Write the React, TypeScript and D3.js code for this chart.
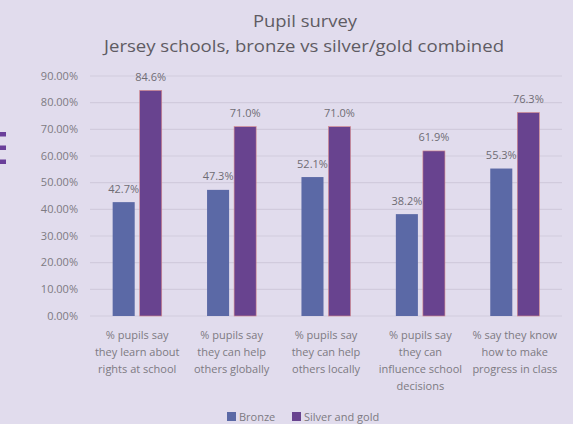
import React from "react";
import * as d3 from "d3";

const categories = ["c1", "c2", "c3", "c4", "c5"];
const categoryLabels: string[][] = [
  ["% pupils say", "they learn about", "rights at school"],
  ["% pupils say", "they can help", "others globally"],
  ["% pupils say", "they can help", "others locally"],
  ["% pupils say", "they can", "influence school", "decisions"],
  ["% say they know", "how to make", "progress in class"],
];
const seriesNames = ["Bronze", "Silver and gold"];
const bronze = [42.7, 47.3, 52.1, 38.2, 55.3];
const silverGold = [84.6, 71.0, 71.0, 61.9, 76.3];
const yTicks = [0, 10, 20, 30, 40, 50, 60, 70, 80, 90];
const colors = ["#5b69a6", "#68438f"];

const W = 573;
const H = 424;
const FONT = "'Open Sans', 'Liberation Sans', sans-serif";

export default function App() {
  const y = d3.scaleLinear().domain([0, 90]).range([316, 76]);
  const x0 = d3
    .scaleBand<string>()
    .domain(categories)
    .range([90, 562])
    .paddingInner(0.48)
    .paddingOuter(0.24);
  const x1 = d3
    .scaleBand<string>()
    .domain(seriesNames)
    .range([0, x0.bandwidth()])
    .paddingInner(0.185);
  const series = [bronze, silverGold];
  const textColor = "#7d7a82";

  return (
    <svg
      width={W}
      height={H}
      style={{ position: "absolute", left: 0, top: 0 }}
      fontFamily={FONT}
    >
      <rect x={0} y={0} width={W} height={H} fill="#e1dced" />
      {/* slide fragment at left edge */}
      <g fill="#6a3f9a">
        <rect x={0} y={132} width={6} height={4.5} />
        <rect x={0} y={145.5} width={6} height={4.5} />
        <rect x={0} y={159.5} width={6} height={4.5} />
      </g>
      <text
        x={305}
        y={27}
        textAnchor="middle"
        fontSize={16}
        fill="#5e5b63"
        textLength={104}
        lengthAdjust="spacingAndGlyphs"
      >
        Pupil survey
      </text>
      <text
        x={304}
        y={52}
        textAnchor="middle"
        fontSize={16.5}
        fill="#5e5b63"
        textLength={400}
        lengthAdjust="spacingAndGlyphs"
      >
        Jersey schools, bronze vs silver/gold combined
      </text>
      {yTicks.map((t) => (
        <g key={t}>
          <line
            x1={90}
            x2={562}
            y1={y(t)}
            y2={y(t)}
            stroke="#d1cbdd"
            strokeWidth={1.2}
          />
          <text
            x={78}
            y={y(t) + 3.8}
            textAnchor="end"
            fontSize={11}
            fill={textColor}
          >
            {d3.format(".2f")(t) + "%"}
          </text>
        </g>
      ))}
      {categories.map((c, i) => (
        <g key={c} transform={`translate(${x0(c)},0)`}>
          {seriesNames.map((s, j) => {
            const v = series[j][i];
            const bx = x1(s)!;
            return (
              <g key={s}>
                <rect
                  x={bx}
                  y={y(v)}
                  width={x1.bandwidth()}
                  height={y(0) - y(v)}
                  fill={colors[j]}
                  stroke={j === 1 ? "#d98a8a" : "none"}
                  strokeWidth={0.6}
                />
                <text
                  x={bx + x1.bandwidth() / 2}
                  y={y(v) - 9.5}
                  textAnchor="middle"
                  fontSize={11}
                  fill="#6f6c74"
                >
                  {v.toFixed(1) + "%"}
                </text>
              </g>
            );
          })}
          {categoryLabels[i].map((line, k) => (
            <text
              key={k}
              x={x0.bandwidth() / 2}
              y={339 + k * 17}
              textAnchor="middle"
              fontSize={11}
              fill={textColor}
            >
              {line}
            </text>
          ))}
        </g>
      ))}
      {seriesNames.map((s, j) => {
        const lx = [227, 292][j];
        return (
          <g key={s}>
            <rect x={lx} y={412} width={9} height={9} fill={colors[j]} />
            <text x={lx + 12} y={420.5} fontSize={11} fill={textColor}>
              {s}
            </text>
          </g>
        );
      })}
    </svg>
  );
}
